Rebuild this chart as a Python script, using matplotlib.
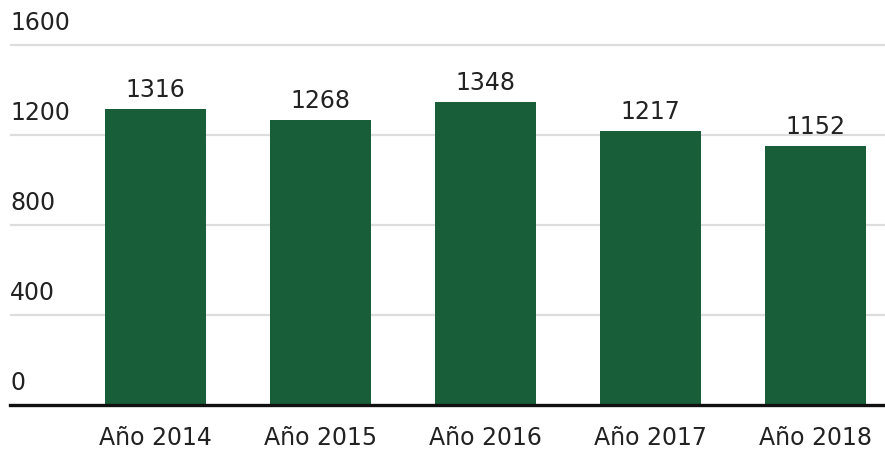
import matplotlib as mpl
from matplotlib import pyplot as plt
from matplotlib import transforms

years = ['Año 2014', 'Año 2015', 'Año 2016', 'Año 2017', 'Año 2018']
values = [1316, 1268, 1348, 1217, 1152]
yticks = [0, 400, 800, 1200, 1600]

BAR_COLOR = '#185e39'
TEXT_COLOR = '#222222'
FS = 17

mpl.rcParams['font.family'] = 'DejaVu Sans'

fig = plt.figure(figsize=(8.85, 4.5), dpi=100)
ax = fig.add_axes([10 / 885, 0.1, 875 / 885, 0.825])

x = list(range(len(years)))
bars = ax.bar(x, values, width=0.612, color=BAR_COLOR, zorder=3)

ax.set_ylim(0, 1650)
ax.set_xlim(-0.882, 4.421)

# gridlines with the labels sitting on top of them
for t in yticks[1:]:
    ax.axhline(t, color='#dddddd', linewidth=1.6, zorder=1)
trans = transforms.blended_transform_factory(ax.transAxes, ax.transData)
offset = transforms.ScaledTranslation(0, 7 / 72, fig.dpi_scale_trans)
for t in yticks:
    ax.text(0, t, str(t), transform=trans + offset, ha='left', va='bottom',
            fontsize=FS, color=TEXT_COLOR)

for rect, v in zip(bars, values):
    ax.annotate(str(v), (rect.get_x() + rect.get_width() / 2, v),
                xytext=(0, 5), textcoords='offset points',
                ha='center', va='bottom', fontsize=FS, color=TEXT_COLOR)

ax.set_xticks(x)
ax.set_xticklabels(years, fontsize=FS, color=TEXT_COLOR)
ax.tick_params(axis='x', length=0, pad=15)
ax.set_yticks([])

for side in ['left', 'right', 'top']:
    ax.spines[side].set_visible(False)
ax.spines['bottom'].set_linewidth(2.4)
ax.spines['bottom'].set_color('#111111')
ax.spines['bottom'].set_zorder(4)

plt.savefig('out.png', dpi=100)
